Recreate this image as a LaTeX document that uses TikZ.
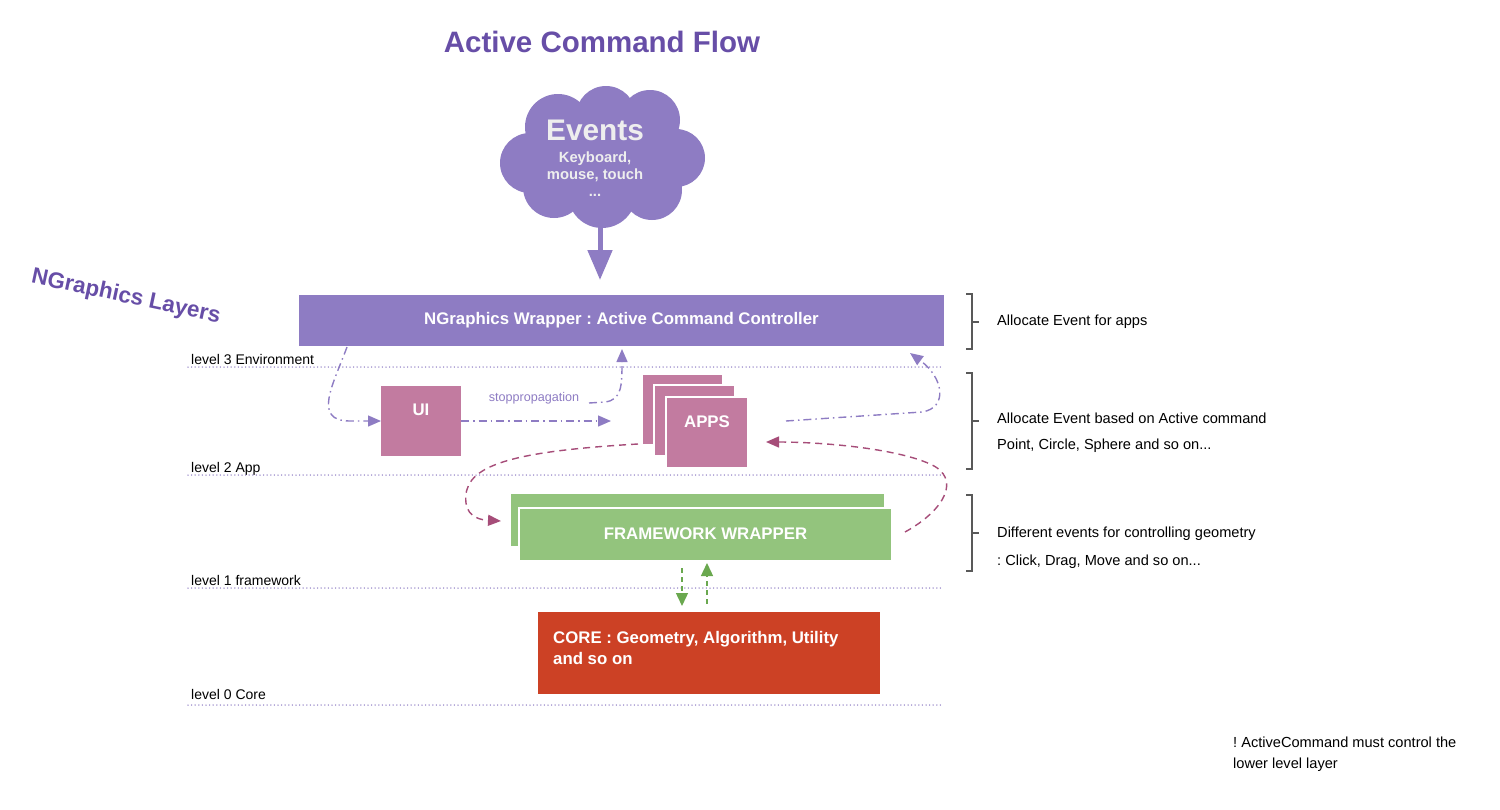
\documentclass[tikz,border=0pt]{standalone}
\usepackage{fontspec}
\setmainfont{Liberation Sans}
\usetikzlibrary{arrows.meta}
\definecolor{purp}{HTML}{8E7CC3}
\definecolor{purpdark}{HTML}{674EA7}
\definecolor{pinkbox}{HTML}{C27BA0}
\definecolor{magen}{HTML}{A64D79}
\definecolor{grn}{HTML}{93C47D}
\definecolor{grndark}{HTML}{6AA84F}
\definecolor{corered}{HTML}{CC4125}
\definecolor{brk}{HTML}{595959}
\definecolor{lightw}{HTML}{EEEEEE}
\frenchspacing
\begin{document}
\begin{tikzpicture}[x=1pt,y=-1pt,
  rect/.style={inner sep=0pt, outer sep=0pt, anchor=north west},
  wtext/.style={text=white, font=\bfseries\fontsize{16.8}{20}\selectfont, inner sep=0pt},
  lvltext/.style={anchor=base west, inner sep=0pt, font=\fontsize{14}{16}\selectfont},
  lvlline/.style={purp, line width=1.5pt, line cap=round, dash pattern=on 0pt off 3.6pt},
  desc/.style={anchor=west, inner sep=0pt, font=\fontsize{14.6}{17}\selectfont},
  bracket/.style={brk, line width=1.1pt},
  pflow/.style={purp, line width=1.4pt, dash pattern=on 8pt off 4pt on 1.5pt off 4pt, -{Triangle[length=13pt,width=11pt]}},
  mflow/.style={magen, line width=1.4pt, dash pattern=on 7pt off 5pt, -{Triangle[length=13pt,width=11pt]}},
  gflow/.style={grndark, line width=1.4pt, dash pattern=on 5pt off 4pt, -{Triangle[length=13pt,width=12pt]}}
]
\useasboundingbox (0,0) rectangle (1500,809);

% title
\node[text=purpdark, font=\bfseries\fontsize{29.5}{32}\selectfont, inner sep=0pt] (title) at (602,42) {Active Command Flow};

% cloud (union of puffs)
\fill[purp]
  (530,163) circle[radius=30]
  (558,127) circle[radius=33]
  (606,116) circle[radius=30]
  (650,120) circle[radius=30]
  (676,158) circle[radius=29]
  (652,190) circle[radius=30]
  (602,194) circle[radius=34]
  (554,187) circle[radius=31]
  (600,157) circle[radius=52];
\coordinate (cloudbot) at (600,215);
\node[text=lightw, font=\bfseries\fontsize{29.8}{32}\selectfont, inner sep=0pt] (ev) at (595,130) {Events};
\node[text=lightw, font=\bfseries\fontsize{14.8}{16.8}\selectfont, inner sep=0pt, align=center, anchor=north] (evsub) at (595,152) {Keyboard,\\mouse, touch\\...};

% NGraphics Layers
\node[text=purpdark, font=\bfseries\fontsize{22.5}{26}\selectfont, inner sep=0pt, rotate=-12] (layers) at (126,297) {NGraphics Layers};

% wrapper
\node[rect, fill=purp, minimum width=645pt, minimum height=51pt] (wrapper) at (299,295) {};
\node[wtext] (wrapt) at (wrapper.center) {NGraphics Wrapper : Active Command Controller};

\coordinate (arrend) at (600,280);
\draw[purp, line width=5pt, -{Triangle[length=30pt,width=24pt]}] (cloudbot) -- (arrend);

% levels
\node[lvltext] (l3) at (191,364) {level 3 Environment};
\node[lvltext] (l2) at (191,472) {level 2 App};
\node[lvltext] (l1) at (191,585) {level 1 framework};
\node[lvltext] (l0) at (191,699) {level 0 Core};
\draw[lvlline] (188,367) -- (944,367);
\draw[lvlline] (188,475) -- (944,475);
\draw[lvlline] (188,588) -- (944,588);
\draw[lvlline] (188,705) -- (944,705);

% UI
\node[rect, fill=pinkbox, minimum width=80pt, minimum height=70pt] (ui) at (381,386) {};
\node[wtext] (uit) at ([yshift=11pt]ui.center) {UI};

% APPS stack
\node[rect, fill=pinkbox, draw=white, line width=1.5pt, minimum width=81pt, minimum height=71pt] (apps1) at (642,374) {};
\node[rect, fill=pinkbox, draw=white, line width=1.5pt, minimum width=81pt, minimum height=71pt] (apps2) at (654,385) {};
\node[rect, fill=pinkbox, draw=white, line width=1.5pt, minimum width=82pt, minimum height=71pt] (apps3) at (666,397) {};
\node[wtext] (appst) at ([yshift=11pt]apps3.center) {APPS};

% framework
\node[rect, fill=grn, minimum width=373pt, minimum height=52pt] (fw1) at (511,494) {};
\node[rect, fill=grn, draw=white, line width=2pt, minimum width=373pt, minimum height=53pt] (fw2) at (519,508) {};
\node[wtext] (fwt) at ([yshift=1pt]fw2.center) {FRAMEWORK WRAPPER};

% core
\node[rect, fill=corered, minimum width=342pt, minimum height=82pt] (core) at (538,612) {};
\node[wtext, anchor=west, align=left, font=\bfseries\fontsize{16.8}{21.5}\selectfont] (coret) at (553,648) {CORE : Geometry, Algorithm, Utility\\and so on};

% purple flows
\coordinate (w1) at (347,347);
\draw[pflow] (w1) .. controls (333,385) and (312,421) .. (350,421) -- (ui.west);
\coordinate (toapps) at (611,421);
\draw[pflow] (ui.east) -- (toapps);
\coordinate (sp0) at (589,403);
\coordinate (w2) at (622,349);
\draw[pflow] (sp0) -- (605,402) .. controls (622,400) and (622,385) .. (w2);
\node[text=purp, font=\fontsize{12.6}{14}\selectfont, inner sep=0pt] (stopl) at (534,398) {stoppropagation};
\coordinate (ap0) at (786,421);
\coordinate (w3) at (910,353);
\draw[pflow] (ap0) -- (922,412) .. controls (948,408) and (944,378) .. (w3);

% magenta flows
\coordinate (am0) at (638,444);
\coordinate (fwin) at (501,521);
\draw[mflow] (am0) .. controls (500,452) and (462,468) .. (466,503) .. controls (468,518) and (482,520) .. (fwin);
\coordinate (fwout) at (905,532);
\coordinate (appin) at (766,442);
\draw[mflow] (fwout) .. controls (945,510) and (962,478) .. (930,464) .. controls (895,448) and (820,442) .. (appin);

% green flows
\coordinate (gd0) at (682,568);
\coordinate (gd1) at (682,606);
\draw[gflow] (gd0) -- (gd1);
\coordinate (gu0) at (707,604);
\coordinate (gu1) at (707,563);
\draw[gflow] (gu0) -- (gu1);

% brackets
\draw[bracket] (966,294) -- (972,294) -- (972,349) -- (966,349);
\draw[bracket] (972,322) -- (979,322);
\draw[bracket] (966,373) -- (972,373) -- (972,469) -- (966,469);
\draw[bracket] (972,421) -- (979,421);
\draw[bracket] (966,495) -- (972,495) -- (972,571) -- (966,571);
\draw[bracket] (972,533) -- (979,533);

\node[desc] (d1) at (997,322) {Allocate Event for apps};
\node[desc] (d2) at (997,418) {Allocate Event based on Active command};
\node[desc] (d3) at (997,446) {Point, Circle, Sphere and so on...};
\node[desc] (d4) at (997,534) {Different events for controlling geometry};
\node[desc] (d5) at (997,562) {: Click, Drag, Move and so on...};

\node[desc, anchor=north west, align=left, font=\fontsize{14.6}{21}\selectfont] (note) at (1233,737) {! ActiveCommand must control the\\lower level layer};
\end{tikzpicture}
\end{document}
